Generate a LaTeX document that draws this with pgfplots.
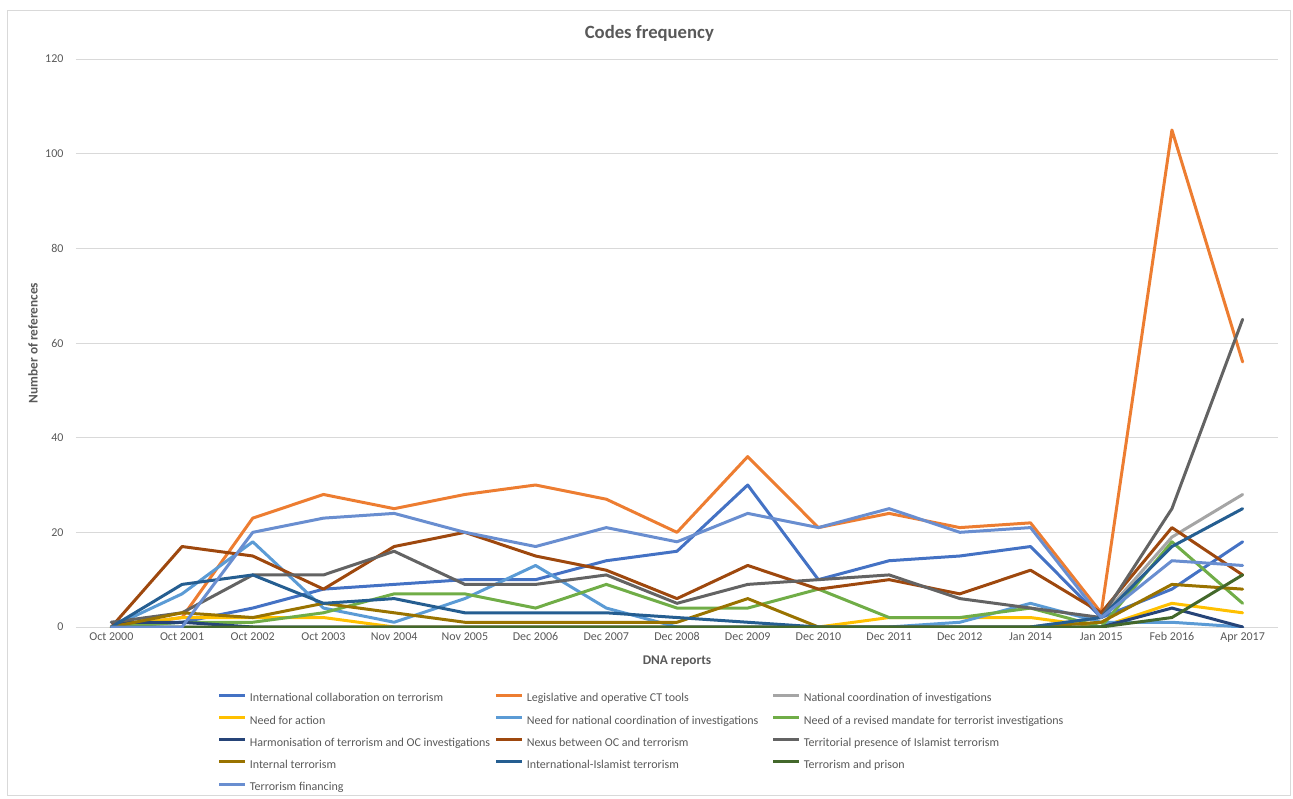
\documentclass[border=0pt]{standalone}
\usepackage{fontspec}
\setmainfont{Carlito}
\usepackage{pgfplots}
\usepackage{pgfplotstable}
\pgfplotsset{compat=1.18}

\definecolor{txtgray}{HTML}{595959}
\definecolor{gridgray}{HTML}{D9D9D9}
\definecolor{cA}{HTML}{4472C4}
\definecolor{cB}{HTML}{ED7D31}
\definecolor{cC}{HTML}{A5A5A5}
\definecolor{cD}{HTML}{FFC000}
\definecolor{cE}{HTML}{5B9BD5}
\definecolor{cF}{HTML}{70AD47}
\definecolor{cG}{HTML}{264478}
\definecolor{cH}{HTML}{9E480E}
\definecolor{cI}{HTML}{636363}
\definecolor{cJ}{HTML}{997300}
\definecolor{cK}{HTML}{255E91}
\definecolor{cL}{HTML}{43682B}
\definecolor{cM}{HTML}{698ED0}

% Number of references per code in each DNA report
\pgfplotstableread{
x  icol leg nat nfa nnc rev har nex ter int iis pri fin
0  0    0   0   0   0   0   1   0   1   0   0   0   0
1  1    2   0   2   7   1   1   17  3   3   9   0   0
2  4    23  0   2   18  1   0   15  11  2   11  0   20
3  8    28  0   2   4   3   0   8   11  5   5   0   23
4  9    25  0   0   1   7   0   17  16  3   6   0   24
5  10   28  0   0   6   7   0   20  9   1   3   0   20
6  10   30  0   0   13  4   0   15  9   1   3   0   17
7  14   27  0   0   4   9   0   12  11  1   3   0   21
8  16   20  0   0   0   4   0   6   5   1   2   0   18
9  30   36  0   0   0   4   0   13  9   6   1   0   24
10 10   21  0   0   0   8   0   8   10  0   0   0   21
11 14   24  0   2   0   2   0   10  11  0   0   0   25
12 15   21  0   2   1   2   0   7   6   0   0   0   20
13 17   22  0   2   5   4   0   12  4   0   0   0   21
14 2    3   2   0   1   0   0   3   2   1   2   0   2
15 8    105 19  5   1   18  4   21  25  9   17  2   14
16 18   56  28  3   0   5   0   11  65  8   25  11  13
}\codes

\newcommand{\lgd}[1]{\makebox[244.5pt][l]{#1}}

\begin{document}
\begin{tikzpicture}
\useasboundingbox (0pt,0pt) rectangle (1293pt,798pt);
\draw[gridgray, line width=0.8pt] (7pt,3pt) rectangle (1290pt,788pt);
\begin{axis}[
  at={(76pt,171pt)}, anchor=south west,
  scale only axis, width=1202pt, height=568pt,
  xmin=-0.5, xmax=16.5, ymin=0, ymax=120,
  xtick={0,...,16},
  xticklabels={Oct 2000,Oct 2001,Oct 2002,Oct 2003,Nov 2004,Nov 2005,Dec 2006,Dec 2007,Dec 2008,Dec 2009,Dec 2010,Dec 2011,Dec 2012,Jan 2014,Jan 2015,Feb 2016,Apr 2017},
  ytick={0,20,...,120},
  /pgf/number format/assume math mode=true,
  ymajorgrids,
  grid style={gridgray, line width=0.8pt},
  axis x line*=bottom, axis y line*=left,
  x axis line style={gridgray, line width=0.8pt, -},
  y axis line style={draw=none},
  major tick length=0pt,
  tick label style={font=\fontsize{12}{14}\selectfont, text=txtgray},
  xticklabel style={yshift=-2pt},
  yticklabel style={xshift=-9pt},
  title={Codes frequency},
  title style={at={(axis description cs:0.477,1.035)}, anchor=center,
    font=\fontsize{18.7}{22}\selectfont\bfseries, text=txtgray},
  xlabel={DNA reports},
  xlabel style={at={(axis description cs:0.5,-0.06)}, anchor=center,
    font=\fontsize{13.3}{16}\selectfont\bfseries, text=txtgray},
  ylabel={Number of references},
  ylabel style={at={(axis description cs:-0.0358,0.5)}, anchor=center,
    font=\fontsize{13.3}{16}\selectfont\bfseries, text=txtgray},
  every axis plot/.append style={line width=3pt, line join=round, line cap=round},
  legend columns=3,
  legend cell align=left,
  legend image code/.code={\draw[#1, line cap=butt] (0pt,3.5pt) -- (26pt,3.5pt);},
  legend style={
    at={(axis description cs:0.118,-0.116)}, anchor=north west,
    draw=none, fill=none, inner sep=0pt, outer sep=0pt,
    font=\fontsize{12}{14}\selectfont, text=txtgray,
    nodes={inner sep=0pt, text height=9pt, text depth=3pt},
    row sep=10.2pt,
    /tikz/every odd column/.append style={column sep=3pt},
    /tikz/every even column/.append style={column sep=0.5pt},
  },
]
\addplot[cA] table[x=x, y=icol] {\codes};
\addlegendentry{\lgd{International collaboration on terrorism}}
\addplot[cB] table[x=x, y=leg] {\codes};
\addlegendentry{\lgd{Legislative and operative CT tools}}
\addplot[cC] table[x=x, y=nat] {\codes};
\addlegendentry{\lgd{National coordination of investigations}}
\addplot[cD] table[x=x, y=nfa] {\codes};
\addlegendentry{\lgd{Need for action}}
\addplot[cE] table[x=x, y=nnc] {\codes};
\addlegendentry{\lgd{Need for national coordination of investigations}}
\addplot[cF] table[x=x, y=rev] {\codes};
\addlegendentry{\lgd{Need of a revised mandate for terrorist investigations}}
\addplot[cG] table[x=x, y=har] {\codes};
\addlegendentry{\lgd{Harmonisation of terrorism and OC investigations}}
\addplot[cH] table[x=x, y=nex] {\codes};
\addlegendentry{\lgd{Nexus between OC and terrorism}}
\addplot[cI] table[x=x, y=ter] {\codes};
\addlegendentry{\lgd{Territorial presence of Islamist terrorism}}
\addplot[cJ] table[x=x, y=int] {\codes};
\addlegendentry{\lgd{Internal terrorism}}
\addplot[cK] table[x=x, y=iis] {\codes};
\addlegendentry{\lgd{International-Islamist terrorism}}
\addplot[cL] table[x=x, y=pri] {\codes};
\addlegendentry{\lgd{Terrorism and prison}}
\addplot[cM] table[x=x, y=fin] {\codes};
\addlegendentry{\lgd{Terrorism financing}}
\end{axis}
\end{tikzpicture}
\end{document}
